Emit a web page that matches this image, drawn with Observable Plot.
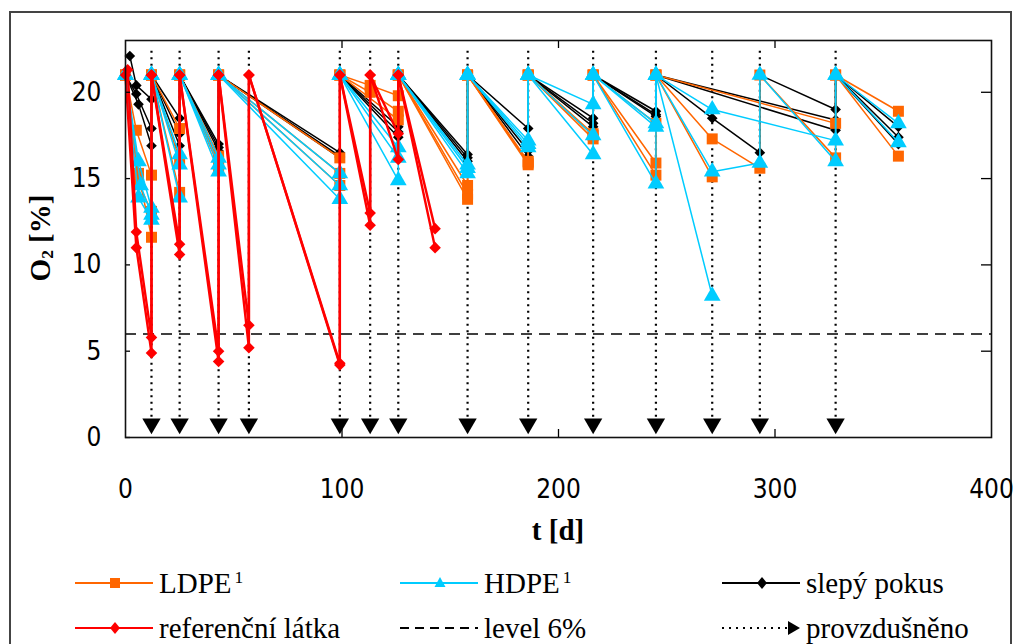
<!DOCTYPE html>
<html>
<head>
<meta charset="utf-8">
<script src="https://cdn.jsdelivr.net/npm/d3@7"></script>
<script src="https://cdn.jsdelivr.net/npm/@observablehq/plot@0.6"></script>
<style>
  html, body { margin: 0; padding: 0; background: #fff; overflow: hidden; width: 1015px; height: 644px; }
  #frame { position: absolute; left: 9px; top: 11px; width: 1003px; height: 700px; border: 2px solid #444; box-sizing: border-box; }
  #chart { position: absolute; left: 0; top: 0; }
  .title { position: absolute; font-family: "Liberation Serif", "Times New Roman", serif; font-weight: bold; font-size: 29px; color: #000; white-space: nowrap; }
  .title sub { font-size: 0.6em; vertical-align: -0.15em; }
  #ytitle { left: 41px; top: 238px; transform: translate(-50%, -50%) rotate(-90deg); }
  #xtitle { left: 558px; top: 530px; transform: translate(-50%, -50%); }
  .item { position: absolute; display: flex; align-items: center; height: 36px; white-space: nowrap;
          font-family: "Liberation Serif", "Times New Roman", serif; font-size: 29px; color: #000; }
  .item svg { display: block; margin-right: 4px; }
  .item sup { font-size: 0.6em; vertical-align: 0.55em; margin-left: 3px; }
</style>
</head>
<body>
<div id="frame"></div>
<div id="chart"></div>
<div id="ytitle" class="title">O<sub>2</sub> [%]</div>
<div id="xtitle" class="title">t [d]</div>
<div id="legend"></div>
<script>
// Oxygen content in the test vessels, [day, O2 %]; a repeated day is the re-aeration back to air.
const ldpeA = [[0,21],[5,17.8],[12,15.2],[12,21],[25,17.9],[25,21],[43,16.3],[43,21],[99,16.2],[99,21],[113,20.4],[126,19.8],[126,21],[158,14.6],[158,21],[186,15.8],[186,21],[216,17.3],[216,21],[245,18.2],[245,21],[328,18.2],[328,21],[357,18.9]];
const ldpeB = [[0,21],[6,15.3],[12,11.6],[12,21],[25,16.1],[25,21],[43,16.0],[43,21],[99,14.6],[99,21],[113,20.0],[126,18.9],[126,21],[158,14.1],[158,21],[186,15.9],[186,21],[216,17.5],[216,21],[245,15.9],[245,21],[271,17.3],[293,15.6],[293,21],[328,16.2],[328,21],[357,16.3]];
const ldpeC = [[0,21],[6,14.7],[12,13.1],[12,21],[25,14.2],[25,21],[43,15.7],[43,21],[99,15.3],[99,21],[126,18.4],[126,21],[158,13.8],[158,21],[186,16.0],[186,21],[216,17.6],[216,21],[245,15.2],[245,21],[271,15.1]];

const hdpeA = [[0,21],[6,16.0],[12,13.3],[12,21],[25,16.4],[25,21],[43,16.2],[43,21],[99,15.3],[99,21],[126,16.8],[126,21],[158,15.8],[158,21],[186,17.2],[186,21],[216,19.3],[216,21],[245,18.2],[245,21],[271,19.0],[328,17.2],[328,21],[357,18.2]];
const hdpeB = [[0,21],[7,14.6],[12,12.9],[12,21],[25,13.9],[25,21],[43,15.4],[43,21],[99,13.8],[99,21],[126,14.9],[126,21],[158,15.3],[158,21],[186,17.0],[186,21],[216,17.5],[216,21],[245,14.7],[245,21],[271,15.4],[293,15.9],[293,21],[328,16.0],[328,21],[357,17.1]];
const hdpeC = [[0,21],[6,13.9],[12,12.6],[12,21],[25,15.8],[25,21],[43,15.8],[43,21],[99,14.6],[99,21],[126,16.2],[126,21],[158,15.6],[158,21],[186,16.8],[186,21],[216,16.4],[216,21],[245,18.0],[245,21],[271,8.2]];

const blankA = [[2,22.1],[5,20.4],[12,19.6],[12,21],[25,18.5],[25,21],[43,17.0],[43,21],[99,16.5],[99,21],[126,18.0],[126,21],[158,16.4],[158,21],[186,17.9],[186,21],[216,18.5],[216,21],[245,18.9],[245,21],[271,18.5],[293,16.5],[293,21],[328,19.0],[328,21],[357,18.0]];
const blankB = [[0,21],[5,19.9],[12,17.9],[12,21],[25,17.6],[25,21],[43,16.8],[43,21],[99,16.3],[99,21],[126,17.7],[126,21],[158,16.0],[158,21],[186,16.3],[186,21],[216,18.2],[216,21],[245,18.6],[245,21],[328,18.4],[328,21],[357,17.4]];
const blankC = [[0,21],[6,19.3],[12,16.9],[12,21],[25,16.9],[25,21],[43,16.6],[43,21],[99,16.2],[99,21],[126,17.4],[126,21],[158,16.2],[158,21],[186,16.6],[186,21],[216,18.0],[216,21],[245,18.7],[245,21],[328,17.8],[328,21],[357,17.0]];

const refA = [[1,21.3],[5,11.9],[12,5.8],[12,21],[25,11.2],[25,21],[43,5.0],[43,21],[57,6.5],[57,21],[99,4.2],[99,21],[113,13.0],[113,21],[126,17.6],[126,21],[143,12.1]];
const refB = [[0,21],[5,11.0],[12,4.9],[12,21],[25,10.6],[25,21],[43,4.4],[43,21],[57,5.2],[57,21],[99,4.3],[99,21],[113,12.3],[113,21],[126,16.1],[126,21],[143,11.0]];

// Days on which the vessels were re-aerated.
const aerationDays = [12, 25, 43, 57, 99, 113, 126, 158, 186, 216, 245, 271, 293, 328];
const aerationMarkLevel = 0.8;
const aerationLineTop = 22.6;
const thresholdLevel = 6;

const xTicks = [0, 100, 200, 300, 400];
const yTicks = [0, 5, 10, 15, 20];

const ORANGE = "#FF6600", CYAN = "#00CCFF", RED = "#FF0000", BLACK = "#000000";

const rows = (series, name) => series.flatMap((s, i) => s.map(([t, o2]) => ({t, o2, rep: name + i})));
const ldpe = rows([ldpeA, ldpeB, ldpeC], "L");
const hdpe = rows([hdpeA, hdpeB, hdpeC], "H");
const blank = rows([blankA, blankB, blankC], "B");
const ref = rows([refA, refB], "R");

const W = 1015, H = 560, mL = 125, mR = 24, mT = 40, mB = 123;
const fw = W - mL - mR, fh = H - mT - mB;

const chart = Plot.plot({
  width: W, height: H,
  marginLeft: mL, marginRight: mR, marginTop: mT, marginBottom: mB,
  style: {fontFamily: '"Liberation Sans Narrow", "DejaVu Sans Condensed", "Liberation Sans", sans-serif', fontSize: "26px", color: "#000", background: "transparent"},
  x: {domain: [0, 400]},
  y: {domain: [0, 23]},
  marks: [
    Plot.ruleX(aerationDays, {x: d => d, y1: aerationMarkLevel, y2: aerationLineTop, stroke: BLACK, strokeWidth: 2.2, strokeDasharray: "2,4.5"}),
    Plot.ruleY([thresholdLevel], {stroke: BLACK, strokeWidth: 1.6, strokeDasharray: "11,7"}),
    Plot.line(blank, {x: "t", y: "o2", z: "rep", stroke: BLACK, strokeWidth: 1.5}),
    Plot.dot(blank, {x: "t", y: "o2", symbol: "diamond2", r: 4.8, fill: BLACK}),
    Plot.line(ldpe, {x: "t", y: "o2", z: "rep", stroke: ORANGE, strokeWidth: 1.5}),
    Plot.dot(ldpe, {x: "t", y: "o2", symbol: "square", r: 6.2, fill: ORANGE}),
    Plot.line(hdpe, {x: "t", y: "o2", z: "rep", stroke: CYAN, strokeWidth: 1.5}),
    Plot.dot(hdpe, {x: "t", y: "o2", symbol: "triangle", r: 6.2, fill: CYAN}),
    Plot.line(ref, {x: "t", y: "o2", z: "rep", stroke: RED, strokeWidth: 2.4}),
    Plot.dot(ref, {x: "t", y: "o2", symbol: "diamond2", r: 5.2, fill: RED}),
    Plot.dot(aerationDays, {x: d => d, y: aerationMarkLevel, symbol: "triangle", rotate: 180, r: 6.8, fill: BLACK}),
    // inward tick marks on all four sides
    Plot.tickY(yTicks, {y: d => d, insetRight: fw - 5, stroke: BLACK, strokeWidth: 1.3}),
    Plot.tickY(yTicks.slice(1), {y: d => d, insetLeft: fw - 10, stroke: BLACK, strokeWidth: 1.3}),
    Plot.tickX(xTicks.slice(1, 4), {x: d => d, insetBottom: fh - 8, stroke: BLACK, strokeWidth: 1.3}),
    Plot.tickX(xTicks.slice(1, 4), {x: d => d, insetTop: fh - 8, stroke: BLACK, strokeWidth: 1.3}),
    Plot.frame({stroke: "#111", strokeWidth: 1.6}),
    Plot.axisY({ticks: yTicks, tickSize: 0, tickPadding: 24, label: null}),
    Plot.axisX({ticks: xTicks, tickSize: 0, tickPadding: 42, label: null})
  ]
});
document.getElementById("chart").appendChild(chart);

// Legend
const legendItems = [
  {left: 75, top: 583, html: 'LDPE<sup>1</sup>', line: ORANGE, dash: null, marker: "square", mcolor: ORANGE},
  {left: 400, top: 583, html: 'HDPE<sup>1</sup>', line: CYAN, dash: null, marker: "triangle", mcolor: CYAN},
  {left: 722, top: 583, html: 'slepý pokus', line: BLACK, dash: null, marker: "diamond", mcolor: BLACK},
  {left: 75, top: 628, html: 'referenční látka', line: RED, dash: null, marker: "diamond", mcolor: RED},
  {left: 400, top: 628, html: 'level 6%', line: BLACK, dash: "9,6", marker: null},
  {left: 722, top: 628, html: 'provzdušněno', line: BLACK, dash: "2,5", marker: "arrow", mcolor: BLACK}
];
function markerSvg(kind, color) {
  const cx = 40, cy = 18;
  if (kind === "square") return `<rect x="${cx-5}" y="${cy-5}" width="10" height="10" fill="${color}"/>`;
  if (kind === "triangle") return `<path d="M${cx},${cy-6}L${cx+5.5},${cy+4}L${cx-5.5},${cy+4}Z" fill="${color}"/>`;
  if (kind === "diamond") return `<path d="M${cx},${cy-6}L${cx+5},${cy}L${cx},${cy+6}L${cx-5},${cy}Z" fill="${color}"/>`;
  if (kind === "arrow") return `<path d="M66,${cy-7}L78,${cy}L66,${cy+7}Z" fill="${color}"/>`;
  return "";
}
const legend = document.getElementById("legend");
for (const it of legendItems) {
  const div = document.createElement("div");
  div.className = "item";
  div.style.left = it.left + "px";
  div.style.top = (it.top - 18) + "px";
  const x2 = it.marker === "arrow" ? 66 : 78;
  div.innerHTML = `<svg width="80" height="36"><line x1="0" y1="18" x2="${x2}" y2="18" stroke="${it.line}" stroke-width="2" ${it.dash ? `stroke-dasharray="${it.dash}"` : ""}/>${markerSvg(it.marker, it.mcolor)}</svg><span>${it.html}</span>`;
  legend.appendChild(div);
}
</script>
</body>
</html>
